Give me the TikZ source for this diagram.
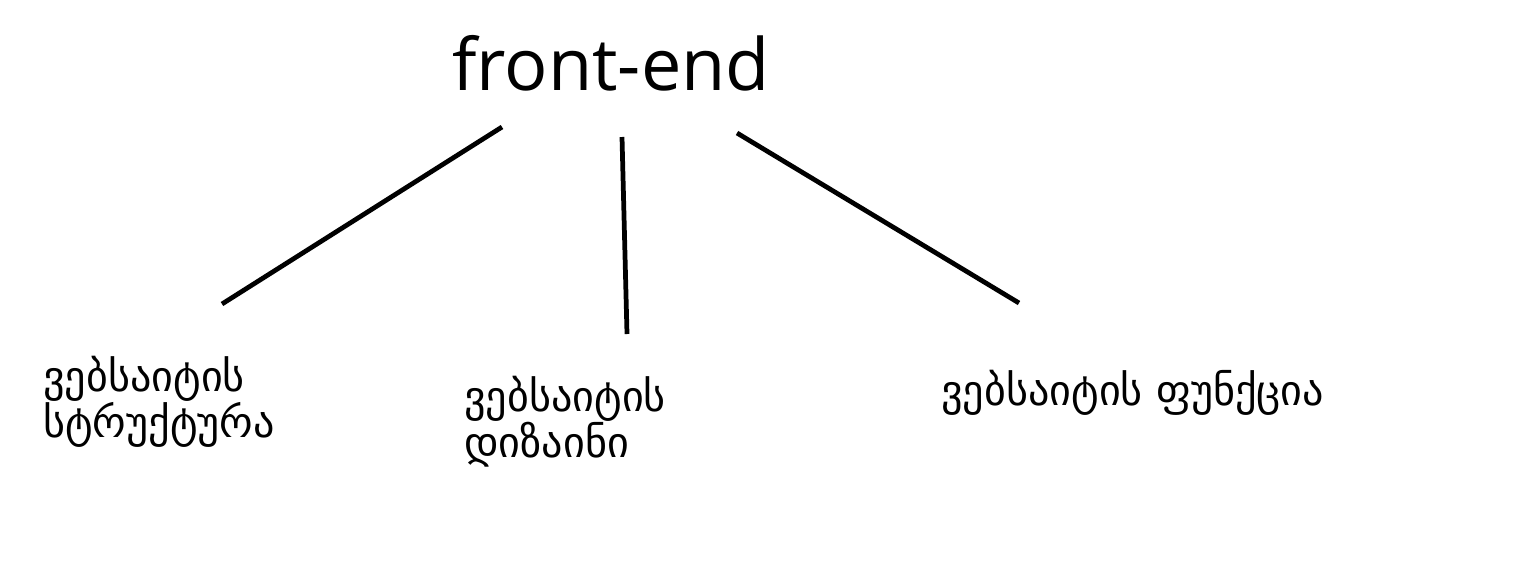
\documentclass[tikz,border=0pt]{standalone}
\usepackage{fontspec}
\setmainfont{DejaVu Sans}
\newfontfamily\titlefont{Open Sans}
\begin{document}
\begin{tikzpicture}[x=0.02cm, y=-0.02cm,
		branch/.style={line width=2.7pt},
		leaf/.style={font=\fontsize{24}{26}\selectfont, align=left, inner sep=0pt, anchor=base west}]
		\useasboundingbox (0, 0) rectangle (1528, 562);

		\node[font=\titlefont\fontsize{41}{41}\selectfont, inner sep=0pt, anchor=base west] (frontend) at (452, 90) {front-end};

		% base is on the last line
		\node[leaf] (structure) at (43, 437) {ვებსაიტის\\სტრუქტურა};
		\node[leaf] (design) at (464, 457) {ვებსაიტის\\დიზაინი};
		\node[leaf] (function) at (941, 405) {ვებსაიტის ფუნქცია};

		% ends of the branches
		\coordinate (fe-l) at (502, 127);
		\coordinate (fe-m) at (622, 137);
		\coordinate (fe-r) at (737, 133);
		\coordinate (structure-top) at (222, 304);
		\coordinate (design-top) at (627, 334);
		\coordinate (function-top) at (1019, 303);

		\draw[branch] (fe-l) -- (structure-top);
		\draw[branch] (fe-m) -- (design-top);
		\draw[branch] (fe-r) -- (function-top);
	\end{tikzpicture}
\end{document}
